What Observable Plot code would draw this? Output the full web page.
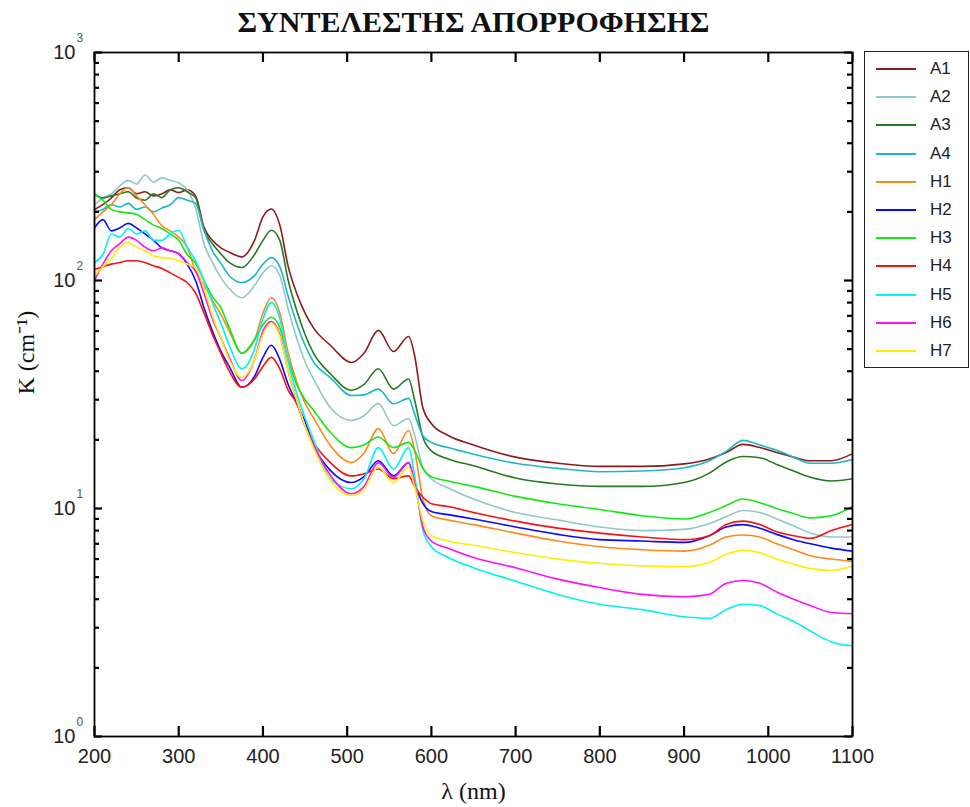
<!DOCTYPE html>
<html>
<head>
<meta charset="utf-8">
<script src="https://cdn.jsdelivr.net/npm/d3@7"></script>
<script src="https://cdn.jsdelivr.net/npm/@observablehq/plot@0.6"></script>
<style>
  html, body { margin: 0; padding: 0; background: #ffffff; }
  #wrap { position: relative; width: 970px; height: 807px; }
  #legend { position: absolute; left: 864px; top: 51px; width: 103px; height: 315px;
            border: 1.5px solid #222; background: #fff; box-sizing: content-box; }
  .item { position: absolute; left: 0; height: 20px; }
  .sw { position: absolute; left: 11px; top: 9px; width: 40px; height: 2px; }
  .lab { position: absolute; left: 65px; top: 0; font: 17px "Liberation Sans", Arial, sans-serif; color: #222; line-height: 20px; }
</style>
</head>
<body>
<div id="wrap"><div id="chart"></div><div id="legend"></div></div>
<script>
const seriesNames = ["A1","A2","A3","A4","H1","H2","H3","H4","H5","H6","H7"];
const seriesColors = ["#8e1b1b","#93c7c7","#237a23","#1fb6c6","#ff8a1c","#0a0aff","#12e812","#ff1010","#00f2f2","#ff10ff","#ffee00"];

const wl = [200,210,220,230,240,250,260,270,280,290,300,310,320,330,340,350,360,375,390,400,410,420,430,440,450,460,480,505,520,537,555,573,580,590,600,620,650,700,750,800,850,900,930,950,970,990,1010,1030,1050,1075,1100];

const A1 = [205,215,230,250,255,240,245,235,240,250,243,250,235,171,150,139,133,127,150,190,206,175,115,88,72,62,52,43.7,48,60.4,48.8,56.8,47,27.5,23.6,20.9,19,16.8,15.8,15.3,15.3,15.7,16.5,17.6,19.1,18.5,17.6,16.8,16.2,16.2,17.4];
const A2 = [215,230,240,260,275,265,290,270,282,275,268,250,208,145,120,103,92,84,95,108,116,105,75,56,44,37,27.7,24.3,25.5,28.9,23.1,24.8,21,15,13.5,12.3,11,9.6,8.9,8.3,8.0,8.1,8.6,9.2,9.8,9.6,9.0,8.4,7.8,7.5,7.5];
const A3 = [240,230,235,240,245,230,225,240,231,250,255,245,231,166,145,131,120,114,130,150,166,150,100,74,58,48,39,33,35,41,33.4,37,30,20.5,17.9,16.5,15.4,13.6,12.8,12.5,12.5,13,14.3,16,16.9,16.7,15.6,14.6,13.7,13.2,13.5];
const A4 = [200,205,215,210,218,205,210,200,208,215,231,225,218,166,135,119,105,98,105,118,126,115,85,65,52,44,37.5,31.3,31.5,33.4,28.8,30.4,26,20.8,19.5,18.5,17.3,15.8,15,14.5,14.6,15.1,16.2,17.8,19.9,19,18,16.8,15.8,15.8,16.4];
const H1 = [185,200,215,240,255,235,215,195,174,165,155,140,110,96,82,71,60,48,55,72,84,72,48,36,29,25,18.9,15.9,17.5,22.4,17.4,22,18,11,9.3,8.9,8.5,7.8,7.2,6.8,6.6,6.5,6.9,7.5,7.65,7.5,7.0,6.6,6.2,6.0,5.85];
const H2 = [170,185,165,170,178,170,160,150,139,135,131,118,100,76,60,49,42,34,38,46,52,45,35,29,24,19,14.7,13.0,13.8,16.2,13.9,15.9,13,10.5,9.7,9.4,9.0,8.3,7.7,7.3,7.2,7.1,7.6,8.3,8.5,8.2,7.7,7.3,7.0,6.7,6.5];
const H3 = [240,225,205,200,198,195,185,175,169,160,150,130,119,100,85,76,62,48,55,64,69,62,45,35,30,27,21.6,18.5,19,20.6,18.5,19.5,18,15,13.8,13.2,12.5,11.3,10.5,9.9,9.3,9.0,9.6,10.3,11.0,10.6,10.0,9.5,9.1,9.3,10.2];
const H4 = [112,115,118,120,122,122,120,116,113,108,103,98,88,72,58,48,40,34,37,42,46,41,33,29,23,19.5,15.9,13.9,14.2,14.9,13.5,13.9,12.5,11.2,10.5,10.2,9.6,8.8,8.2,7.8,7.5,7.3,7.6,8.5,8.8,8.5,7.9,7.6,7.4,8.0,8.5];
const H5 = [120,130,160,155,169,160,165,150,150,160,166,140,122,100,80,65,52,41,50,68,80,68,44,32,25,20,13.5,12.2,13.5,18.5,14.9,18.5,14,8,6.8,6.1,5.5,4.8,4.2,3.8,3.6,3.35,3.3,3.6,3.8,3.75,3.45,3.2,2.9,2.6,2.5];
const H6 = [100,118,135,145,155,150,140,135,139,135,131,120,110,88,68,56,46,36.4,45,60,66,58,40,30,23,19,14.0,11.6,12.5,15.9,13.7,15.9,13,8.3,7.2,6.7,6.1,5.5,4.9,4.5,4.2,4.1,4.2,4.7,4.83,4.7,4.3,4.0,3.75,3.5,3.46];
const H7 = [105,115,125,140,147,140,135,128,126,125,122,118,114,93,70,56,45,37.5,45,58,65,57,40,30,23,18.5,13.3,11.4,12.2,15.2,13.0,15.2,12.5,8.8,7.6,7.2,6.9,6.4,6.0,5.75,5.6,5.56,5.8,6.3,6.55,6.4,6.0,5.7,5.45,5.35,5.6];

const xTicks = [200,300,400,500,600,700,800,900,1000,1100];
const yDecades = [1,10,100,1000];
const yMinor = [2,3,4,5,6,7,8,9,20,30,40,50,60,70,80,90,200,300,400,500,600,700,800,900];

const titleText = "ΣΥΝΤΕΛΕΣΤΗΣ ΑΠΟΡΡΟΦΗΣΗΣ";
const xLabel = "λ (nm)";
const yLabel = "K (cm⁻¹)";

const seriesValues = [A1,A2,A3,A4,H1,H2,H3,H4,H5,H6,H7];
const rows = [];
seriesNames.forEach((name, i) => {
  seriesValues[i].forEach((v, j) => rows.push({series: name, wl: wl[j], k: v}));
});

const W = 970, H = 807;
const mL = 94, mR = 118, mT = 52, mB = 71;
const plotW = W - mL - mR, plotH = H - mT - mB;
const sans = "'Liberation Sans', Arial, sans-serif";
const serif = "'Liberation Serif', 'Times New Roman', serif";
const tk = {stroke: "#000", strokeWidth: 2.2};

const chart = Plot.plot({
  width: W, height: H,
  marginLeft: mL, marginRight: mR, marginTop: mT, marginBottom: mB,
  style: {background: "transparent"},
  x: {domain: [200, 1100], axis: null},
  y: {type: "log", domain: [1, 1000], axis: null},
  color: {domain: seriesNames, range: seriesColors},
  marks: [
    Plot.line(rows, {x: "wl", y: "k", z: "series", stroke: "series", strokeWidth: 1.6, curve: "monotone-x"}),
    // inward ticks: bottom / top
    Plot.tickX(xTicks, {x: d => d, insetTop: plotH - 10, ...tk}),
    Plot.tickX(xTicks, {x: d => d, insetBottom: plotH - 10, ...tk}),
    // inward ticks: left / right, major and minor
    Plot.tickY(yDecades, {y: d => d, insetRight: plotW - 8, ...tk}),
    Plot.tickY(yDecades, {y: d => d, insetLeft: plotW - 8, ...tk}),
    Plot.tickY(yMinor, {y: d => d, insetRight: plotW - 5, ...tk}),
    Plot.tickY(yMinor, {y: d => d, insetLeft: plotW - 5, ...tk}),
    Plot.frame({stroke: "#000", strokeWidth: 1.8}),
    // x tick labels
    Plot.text(xTicks, {x: d => d, text: d => String(d), frameAnchor: "bottom", dy: 20,
      fontSize: 20, fontFamily: sans, fill: "#222", lineAnchor: "middle"}),
    // y tick labels 10^n
    Plot.text(yDecades, {y: d => d, text: () => "10", frameAnchor: "left", dx: -19,
      textAnchor: "end", fontSize: 20, fontFamily: sans, fill: "#222", lineAnchor: "middle"}),
    Plot.text(yDecades, {y: d => d, text: d => String(Math.round(Math.log10(d))), frameAnchor: "left", dx: -18, dy: -14,
      textAnchor: "start", fontSize: 12, fontFamily: sans, fill: "#555", lineAnchor: "middle"}),
    // title
    Plot.text([titleText], {text: d => d, frameAnchor: "top", dy: -30, fontSize: 30, fontWeight: "bold",
      fontFamily: serif, fill: "#111", lineAnchor: "middle"}),
    // axis labels
    Plot.text([xLabel], {text: d => d, frameAnchor: "bottom", dy: 55, fontSize: 24,
      fontFamily: serif, fill: "#111", lineAnchor: "middle"}),
    Plot.text([yLabel], {text: d => d, frameAnchor: "left", dx: -68, rotate: -90, fontSize: 24,
      fontFamily: serif, fill: "#111", lineAnchor: "middle"})
  ]
});
document.getElementById("chart").appendChild(chart);

const legend = document.getElementById("legend");
seriesNames.forEach((name, i) => {
  const item = document.createElement("div");
  item.className = "item";
  item.style.top = (7 + i * 28.2) + "px";
  item.style.width = "100%";
  const sw = document.createElement("div");
  sw.className = "sw";
  sw.style.background = seriesColors[i];
  const lab = document.createElement("div");
  lab.className = "lab";
  lab.textContent = name;
  item.appendChild(sw); item.appendChild(lab);
  legend.appendChild(item);
});
</script>
</body>
</html>
